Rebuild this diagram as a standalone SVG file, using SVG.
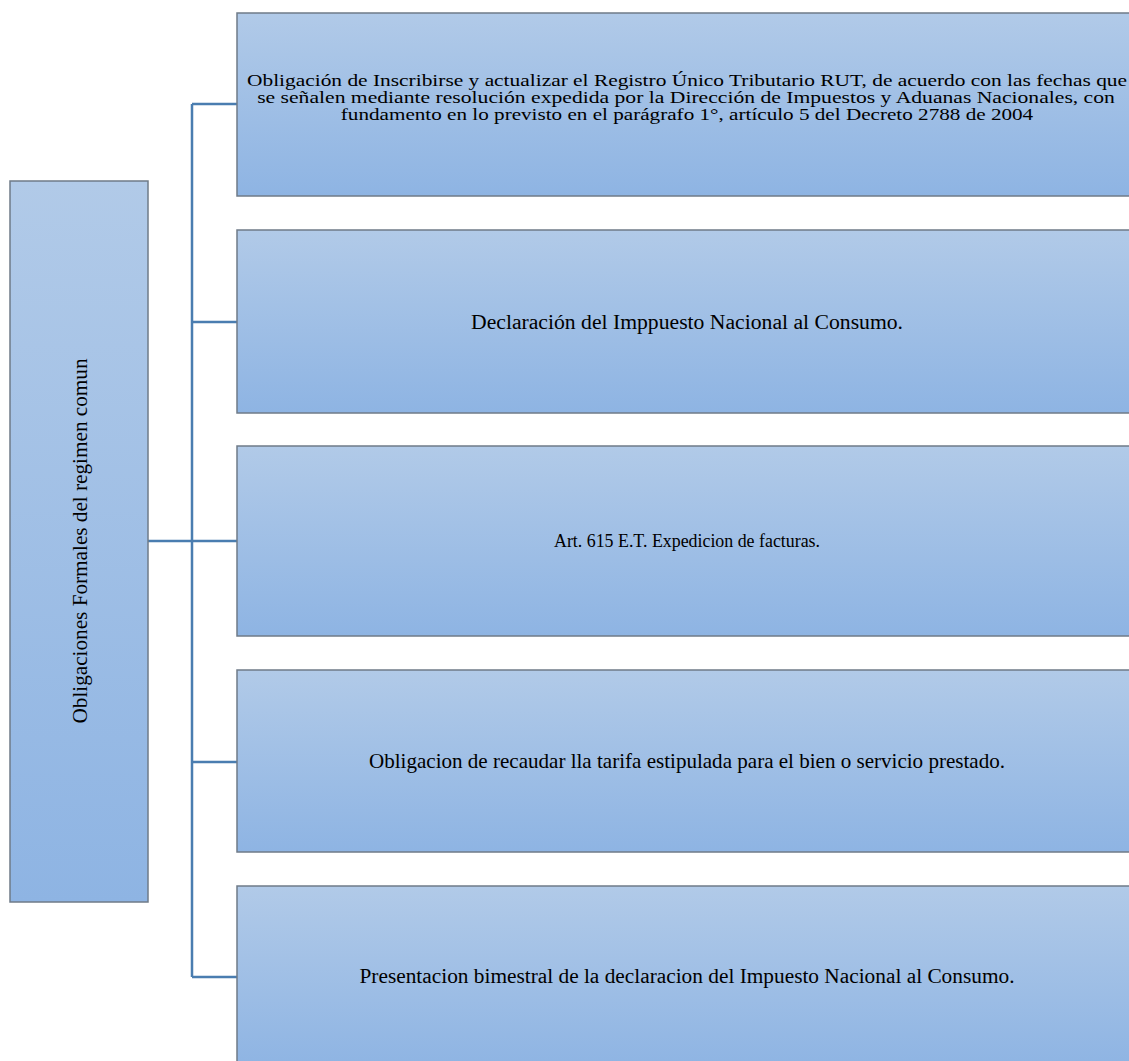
<svg xmlns="http://www.w3.org/2000/svg" width="1129" height="1061" viewBox="0 0 1129 1061">
<defs>
<linearGradient id="g" x1="0" y1="0" x2="0" y2="1">
<stop offset="0" stop-color="#b1cae8"/>
<stop offset="1" stop-color="#8eb4e3"/>
</linearGradient>
<style>
.box{fill:url(#g);stroke:#6f7b88;stroke-width:1.5}
.t{font-family:"Liberation Serif","Times New Roman",serif;font-size:21px;fill:#000;text-anchor:middle}
.s{font-size:17px}
.c{fill:none;stroke:#4a7db0;stroke-width:2.5}
</style>
</defs>
<rect width="1129" height="1061" fill="#ffffff"/>
<g id="connectors">
<path class="c" d="M148,541 H237"/>
<path class="c" d="M192,104 V977"/>
<path class="c" d="M192,104 H237"/>
<path class="c" d="M192,322 H237"/>
<path class="c" d="M192,762 H237"/>
<path class="c" d="M192,977 H237"/>
</g>
<g id="root">
<rect class="box" x="10" y="181" width="138" height="721"/>
<text class="t" style="font-size:21.2px" transform="translate(87,541) rotate(-90)" textLength="365" lengthAdjust="spacingAndGlyphs">Obligaciones Formales del regimen comun</text>
</g>
<g id="n1">
<rect class="box" x="237" y="13" width="900" height="183"/>
<g transform="translate(687,0) scale(1.243,1)">
<text class="t s" x="0" y="86" textLength="708" lengthAdjust="spacingAndGlyphs">Obligación de Inscribirse y actualizar el Registro Único Tributario RUT, de acuerdo con las fechas que</text>
<text class="t s" x="-0.8" y="103" textLength="690" lengthAdjust="spacingAndGlyphs">se señalen mediante resolución expedida por la Dirección de Impuestos y Aduanas Nacionales, con</text>
<text class="t s" x="0" y="120" textLength="557" lengthAdjust="spacingAndGlyphs">fundamento en lo previsto en el parágrafo 1°, artículo 5 del Decreto 2788 de 2004</text>
</g>
</g>
<g id="n2">
<rect class="box" x="237" y="230" width="900" height="183"/>
<text class="t" style="font-size:21.6px" x="687" y="329" textLength="432" lengthAdjust="spacingAndGlyphs">Declaración del Imppuesto Nacional al Consumo.</text>
</g>
<g id="n3">
<rect class="box" x="237" y="446" width="900" height="190"/>
<text class="t" style="font-size:17.8px" x="687" y="547" textLength="266" lengthAdjust="spacingAndGlyphs">Art. 615 E.T. Expedicion de facturas.</text>
</g>
<g id="n4">
<rect class="box" x="237" y="670" width="900" height="182"/>
<text class="t" x="687" y="768" textLength="636" lengthAdjust="spacingAndGlyphs">Obligacion de recaudar lla tarifa estipulada para el bien o servicio prestado.</text>
</g>
<g id="n5">
<rect class="box" x="237" y="886" width="900" height="182"/>
<text class="t" style="font-size:21.3px" x="687" y="983" textLength="655" lengthAdjust="spacingAndGlyphs">Presentacion bimestral de la declaracion del Impuesto Nacional al Consumo.</text>
</g>
</svg>
